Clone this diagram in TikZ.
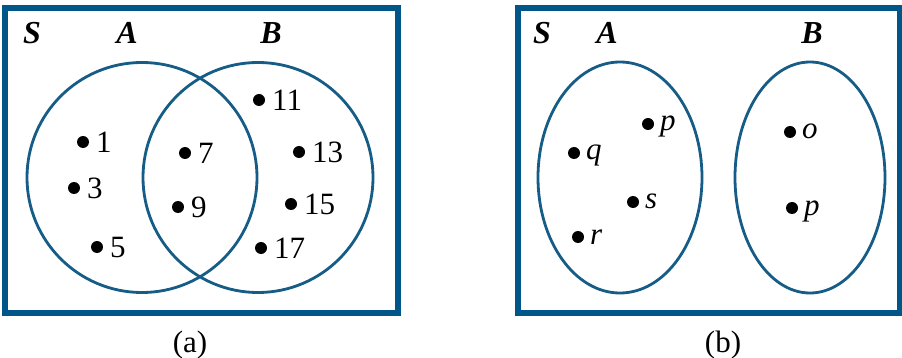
\documentclass[tikz,border=0pt]{standalone}
\usepackage{fontspec}
\setmainfont{Liberation Serif}
\usetikzlibrary{calc,shapes.geometric}
\definecolor{frameblue}{HTML}{005688}
\definecolor{setblue}{HTML}{155C86}
\tikzset{
  frame/.style={draw=frameblue, line width=6pt},
  setline/.style={draw=setblue, line width=2.8pt},
  dot/.style={circle, fill=black, inner sep=0pt, minimum size=12pt},
  elt/.style={anchor=base west, inner sep=0pt, font=\fontsize{31}{36}\selectfont},
  setname/.style={anchor=base, inner sep=0pt, font=\fontsize{32}{38}\selectfont\bfseries\itshape},
  caption/.style={anchor=base, inner sep=0pt, font=\fontsize{31}{36}\selectfont}
}
\begin{document}
\begin{tikzpicture}[x=1pt,y=-1pt]
\useasboundingbox (0,0) rectangle (902,358);
% ---------- panel (a) ----------
\draw[frame] (5,8) rectangle (397.5,313);
\node[setname] (Sa) at (32,44) {S};
\node[setname] (Aa) at (127,44) {A};
\node[setname] (Ba) at (271,44) {B};
\node[circle, setline, minimum size=230pt, inner sep=0pt] (ca) at (142,177.5) {};
\node[circle, setline, minimum size=230pt, inner sep=0pt] (cb) at (258,177.5) {};
\foreach \n/\x/\y in {1/83/142, 3/74/188, 5/97/247, 7/185/153, 9/178/207, 11/259/100, 13/299/152, 15/291/204, 17/261/248}{
  \node[dot] (d\n) at (\x,\y) {};
  \node[elt] (t\n) at ($(d\n)+(13,10.5)$) {\n};
}
\node[caption] (capa) at (190,352) {(a)};
% ---------- panel (b) ----------
\draw[frame] (517.5,8) rectangle (900,313);
\node[setname] (Sb) at (542,44) {S};
\node[setname] (Ab) at (607,44) {A};
\node[setname] (Bb) at (812,44) {B};
\node[ellipse, setline, minimum width=164pt, minimum height=231pt, inner sep=0pt] (ea) at (620,177.5) {};
\node[ellipse, setline, minimum width=150pt, minimum height=231pt, inner sep=0pt] (eb) at (810,177.5) {};
\foreach \nm/\l/\x/\y in {p1/p/648/124, q/q/574/153, s/s/633/202, r/r/578/237, o/o/790/132, p2/p/792/208}{
  \node[dot] (d\nm) at (\x,\y) {};
  \node[elt] (t\nm) at ($(d\nm)+(12,7)$) {\itshape\l};
}
\node[caption] (capb) at (723,352) {(b)};
\end{tikzpicture}
\end{document}
